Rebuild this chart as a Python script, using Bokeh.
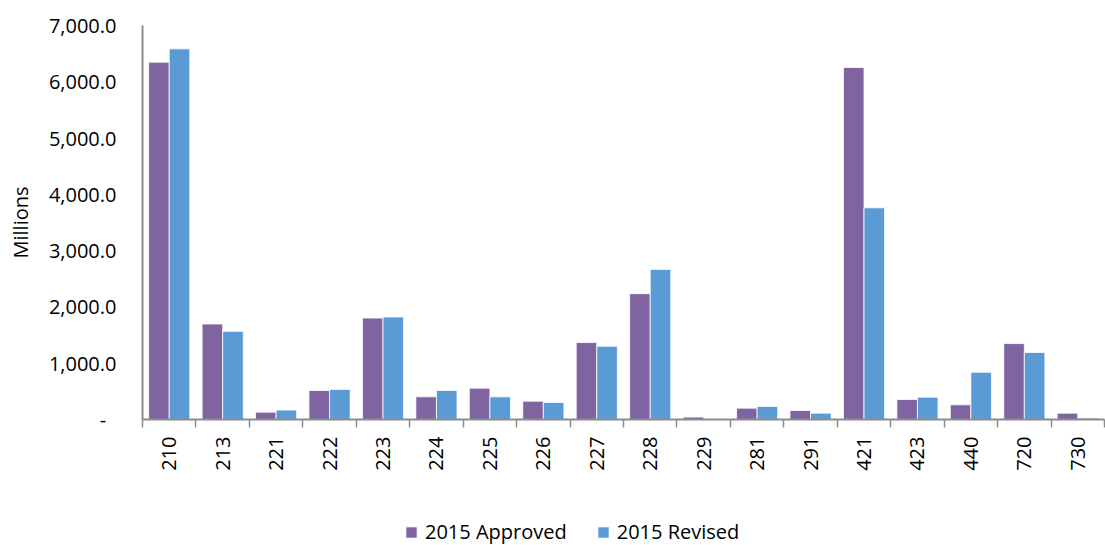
import math
from bokeh.plotting import figure
from bokeh.layouts import column
from bokeh.models import (ColumnDataSource, Range1d, FixedTicker, CustomJSTickFormatter,
                          NumeralTickFormatter, Legend, LegendItem)
from bokeh.transform import dodge
from bokeh.embed import file_html
from bokeh.resources import INLINE

categories = ["210", "213", "221", "222", "223", "224", "225", "226", "227",
              "228", "229", "281", "291", "421", "423", "440", "720", "730"]
approved_2015 = [6349, 1697, 131, 516, 1803, 403, 557, 326, 1367,
                 2236, 43, 202, 161, 6254, 356, 261, 1349, 113]
revised_2015 = [6585, 1567, 167, 534, 1821, 516, 403, 303, 1301,
                2667, 0, 232, 113, 3761, 397, 840, 1190, 25]
y_ticks = [0, 1000, 2000, 3000, 4000, 5000, 6000, 7000]
series_names = ["2015 Approved", "2015 Revised"]
series_colors = ["#8064A2", "#5B9BD5"]

FONT = "Open Sans"
FS = "20px"
n = len(categories)
source = ColumnDataSource(dict(
    xc=[i + 0.5 for i in range(n)],
    cat=categories,
    approved=approved_2015,
    revised=revised_2015,
))

# ---------------- main chart ----------------
p = figure(width=1105, height=505, output_backend="svg", toolbar_location=None,
           x_range=Range1d(0, n), y_range=Range1d(0, 7000),
           min_border_left=142, min_border_right=1, min_border_top=25,
           min_border_bottom=86)
p.outline_line_color = None
p.xgrid.visible = False
p.ygrid.visible = False
p.background_fill_color = "white"
p.border_fill_color = "white"

bw = 0.385
p.vbar(x=dodge("xc", -bw / 2), top="approved", width=bw, source=source,
       fill_color=series_colors[0], line_color="white", line_width=0.8)
p.vbar(x=dodge("xc", bw / 2), top="revised", width=bw, source=source,
       fill_color=series_colors[1], line_color="white", line_width=0.8)

# x axis: labels at category centres, tick marks at category boundaries
xa = p.xaxis[0]
xa.ticker = FixedTicker(ticks=[i + 0.5 for i in range(n)],
                        minor_ticks=list(range(n + 1)))
xa.formatter = CustomJSTickFormatter(args=dict(labels=categories),
                                     code="return labels[Math.floor(tick)];")
xa.major_label_orientation = math.pi / 2
xa.major_tick_out = 0
xa.major_tick_in = 0
xa.minor_tick_out = 8
xa.minor_tick_in = 0
xa.minor_tick_line_color = "#8c8c8c"
xa.minor_tick_line_width = 1.5
xa.axis_line_color = "#8c8c8c"
xa.axis_line_width = 2
xa.major_label_standoff = 9
xa.major_label_text_font = FONT
xa.major_label_text_font_size = FS
xa.major_label_text_color = "black"

# y axis
ya = p.yaxis[0]
ya.ticker = FixedTicker(ticks=y_ticks)
ya.formatter = NumeralTickFormatter(format="0,0.0")
ya.major_label_overrides = {0: "-\u00a0\u00a0"}
ya.major_tick_out = 0
ya.major_tick_in = 0
ya.minor_tick_out = 0
ya.minor_tick_in = 0
ya.axis_line_color = "#8c8c8c"
ya.axis_line_width = 2
ya.major_label_standoff = 26
ya.major_label_text_font = FONT
ya.major_label_text_font_size = FS
ya.major_label_text_color = "black"
ya.axis_label = "Millions"
ya.axis_label_text_font = FONT
ya.axis_label_text_font_size = FS
ya.axis_label_text_font_style = "normal"
ya.axis_label_text_color = "black"
ya.axis_label_standoff = 12

# ---------------- legend strip ----------------
# Legend-only renderers: zero-width, zero-height bars outside the strip's range,
# so only the legend swatches are drawn.
p2 = figure(width=1105, height=40, output_backend="svg", toolbar_location=None,
            x_range=Range1d(0, n), y_range=Range1d(-2, -1),
            x_axis_type=None, y_axis_type=None,
            min_border_left=0, min_border_right=0, min_border_top=0,
            min_border_bottom=0)
p2.outline_line_color = None
p2.xgrid.visible = False
p2.ygrid.visible = False
p2.background_fill_color = "white"
p2.border_fill_color = "white"
k1 = p2.vbar(x="xc", top="approved", bottom="approved", width=0, source=source,
             fill_color=series_colors[0], line_color="white", line_width=0.8)
k2 = p2.vbar(x="xc", top="revised", bottom="revised", width=0, source=source,
             fill_color=series_colors[1], line_color="white", line_width=0.8)

legend = Legend(items=[LegendItem(label=series_names[0], renderers=[k1]),
                       LegendItem(label=series_names[1], renderers=[k2])],
                orientation="horizontal", location=(262, 0),
                background_fill_alpha=0, border_line_color=None,
                padding=0, margin=0, glyph_width=14, glyph_height=14,
                label_standoff=7, spacing=29,
                label_text_font=FONT, label_text_font_size=FS,
                label_text_color="black")
p2.add_layout(legend, "center")

open("out.html", "w").write(file_html(column(p, p2), INLINE))
